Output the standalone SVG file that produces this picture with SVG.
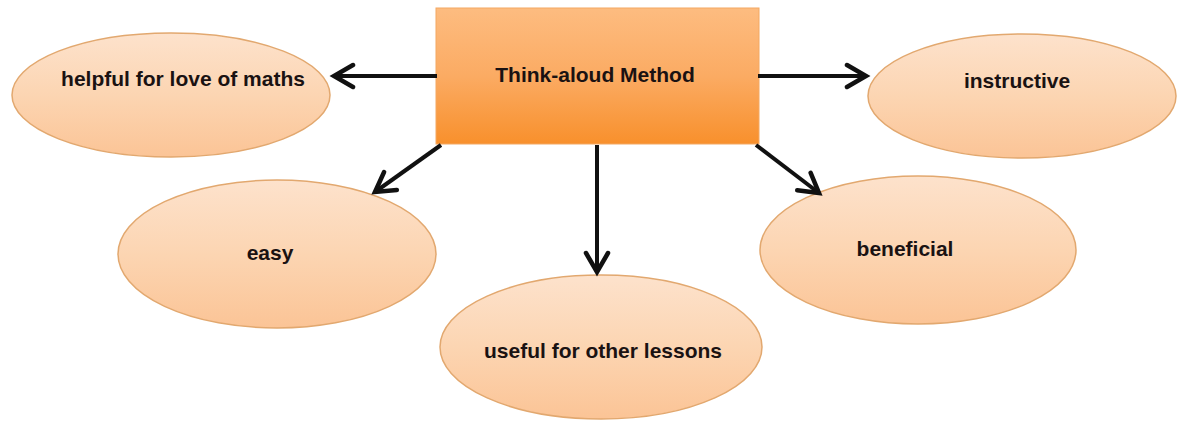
<svg xmlns="http://www.w3.org/2000/svg" width="1182" height="425" viewBox="0 0 1182 425">
<defs>
<linearGradient id="rectGrad" x1="0" y1="0" x2="0" y2="1">
<stop offset="0" stop-color="#fdbc80"/>
<stop offset="0.5" stop-color="#fbab63"/>
<stop offset="1" stop-color="#f8902c"/>
</linearGradient>
<linearGradient id="ellGrad" x1="0" y1="0" x2="0" y2="1">
<stop offset="0" stop-color="#fde2cc"/>
<stop offset="0.5" stop-color="#fcd5b2"/>
<stop offset="1" stop-color="#fbc496"/>
</linearGradient>
<marker id="arrow" markerUnits="userSpaceOnUse" markerWidth="30" markerHeight="30" viewBox="0 0 30 30" refX="22" refY="15" orient="auto">
<path d="M3,4 L22,15 L3,26" fill="none" stroke="#111" stroke-width="4.5" stroke-linecap="round" stroke-linejoin="miter"/>
</marker>
</defs>
<style>
.ell { fill: url(#ellGrad); stroke: #e2a86f; stroke-width: 1.5; }
.lbl { font-family: "Liberation Sans", Arial, sans-serif; font-weight: bold; font-size: 21px; fill: #1a1212; text-anchor: middle; }
.conn { stroke: #111; stroke-width: 4; fill: none; marker-end: url(#arrow); }
</style>
<rect width="1182" height="425" fill="#ffffff"/>
<g id="node-center">
<rect x="436" y="8" width="323" height="136" fill="url(#rectGrad)" stroke="#f3a862" stroke-width="1"/>
<text class="lbl" x="595" y="82">Think-aloud Method</text>
</g>
<g id="node-helpful">
<ellipse class="ell" cx="171" cy="95" rx="159" ry="62"/>
<text class="lbl" x="183" y="86">helpful for love of maths</text>
</g>
<g id="node-instructive">
<ellipse class="ell" cx="1022" cy="96" rx="154" ry="62"/>
<text class="lbl" x="1017" y="88">instructive</text>
</g>
<g id="node-easy">
<ellipse class="ell" cx="277" cy="254" rx="159" ry="74"/>
<text class="lbl" x="270" y="260">easy</text>
</g>
<g id="node-useful">
<ellipse class="ell" cx="601" cy="347" rx="161" ry="72"/>
<text class="lbl" x="603" y="358">useful for other lessons</text>
</g>
<g id="node-beneficial">
<ellipse class="ell" cx="918" cy="250" rx="158" ry="74"/>
<text class="lbl" x="905" y="256">beneficial</text>
</g>
<g id="connectors">
<line class="conn" x1="437" y1="76" x2="334" y2="76"/>
<line class="conn" x1="758" y1="76" x2="866" y2="76"/>
<line class="conn" x1="441" y1="145" x2="375" y2="192"/>
<line class="conn" x1="597" y1="145" x2="597" y2="272"/>
<line class="conn" x1="756" y1="145" x2="819" y2="193"/>
</g>
</svg>
